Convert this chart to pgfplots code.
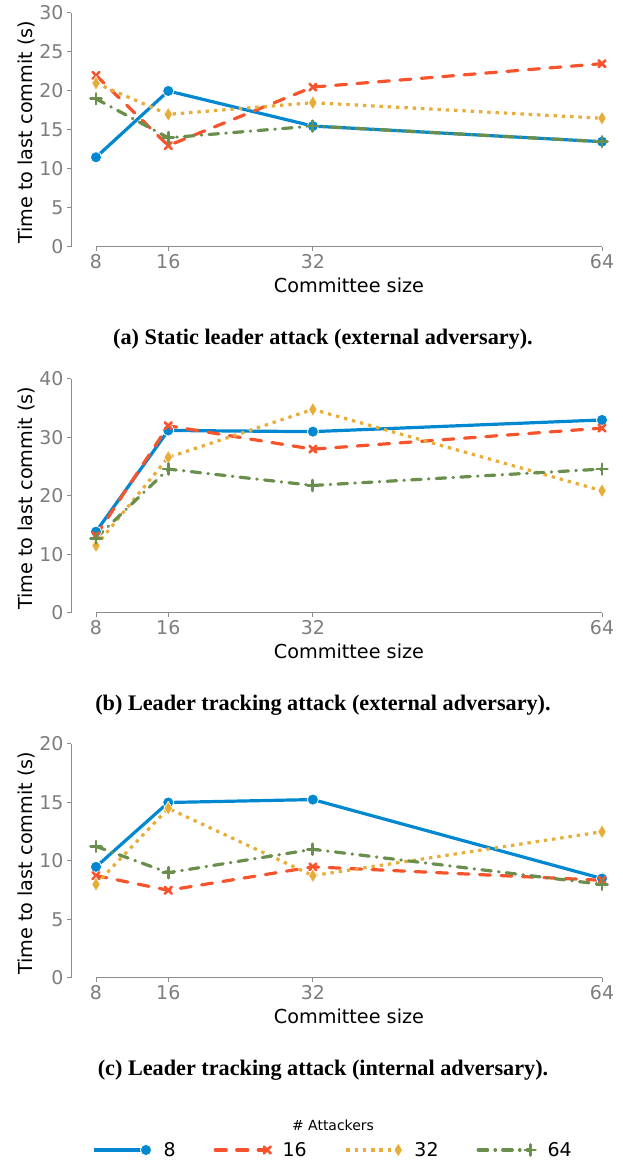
\documentclass[border=0pt]{standalone}
\usepackage{fontspec}
\setmainfont{DejaVu Sans}
\newfontfamily\capfont{Liberation Serif}
\usepackage{pgfplots}
\pgfplotsset{compat=1.18}

\definecolor{cblue}{RGB}{2,136,209}
\definecolor{cred}{RGB}{247,84,45}
\definecolor{cyel}{RGB}{230,174,57}
\definecolor{cgreen}{RGB}{106,142,76}
\definecolor{axgray}{RGB}{140,140,140}
\definecolor{tickgray}{RGB}{125,125,125}

\pgfplotsset{
  panel/.style={
    scale only axis, width=531bp, height=234bp,
    xmin=5.2332, xmax=64, ymin=0,
    axis x line*=bottom, axis y line*=left,
    axis line style={-, draw=axgray, line width=1bp},
    x axis line style={shorten <=25bp},
    xtick={8,16,32,64},
    tick align=outside, major tick length=4bp,
    every tick/.style={axgray, line width=1bp},
    tick label style={font=\fontsize{19}{22}\selectfont, text=tickgray},
    /pgf/number format/assume math mode=true,
    xlabel={Committee size}, ylabel={Time to last commit (s)},
    every axis x label/.style={at={(axis description cs:0.5235,-0.162)}, anchor=center, font=\fontsize{19.3}{22}\selectfont},
    every axis y label/.style={at={(axis description cs:-0.0847,0.49)}, rotate=90, anchor=center, font=\fontsize{19.3}{22}\selectfont},
    clip=false,
    legend image code/.code={\draw[##1, mark repeat=2, mark phase=2] plot coordinates {(0bp,0bp) (52bp,0bp)};},
  },
  s8/.style={cblue, line width=3.2bp, solid, line join=round, mark=*, mark size=5.6bp,
    mark options={solid, fill=cblue, draw=white, line width=0.8bp}},
  s16/.style={cred, line width=3.2bp, line cap=round, line join=round, dash pattern=on 11bp off 10.5bp,
    mark=x, mark size=4.8bp, mark options={solid, line width=2.6bp}},
  s32/.style={cyel, line width=3.2bp, line cap=butt, line join=round, dash pattern=on 3.4bp off 4.9bp,
    mark=diamond*, mark size=7bp, mark options={solid, xscale=0.8, fill=cyel, draw=white, line width=0.6bp}},
  s64/.style={cgreen, line width=3.2bp, line cap=round, line join=round, dash pattern=on 9.5bp off 7.3bp on 0.5bp off 7.3bp,
    mark=+, mark size=5.4bp, mark options={solid, line width=2.8bp}},
}

\begin{document}
\begin{tikzpicture}[x=1bp,y=1bp]
\useasboundingbox (0,0) rectangle (623,1160);

% (a)
\begin{axis}[panel, at={(71bp,913bp)}, anchor=south west, ymax=30, ytick={0,5,10,15,20,25,30}]
\addplot[s8]  coordinates {(8,11.5) (16,20.0) (32,15.5) (64,13.5)};
\addplot[s16] coordinates {(8,22.0) (16,13.0) (32,20.5) (64,23.5)};
\addplot[s32] coordinates {(8,21.0) (16,17.0) (32,18.5) (64,16.5)};
\addplot[s64] coordinates {(8,19.0) (16,14.0) (32,15.5) (64,13.5)};
\end{axis}

% (b)
\begin{axis}[panel, at={(71bp,547bp)}, anchor=south west, ymax=40, ytick={0,10,20,30,40}]
\addplot[s8]  coordinates {(8,13.9) (16,31.2) (32,31.0) (64,33.0)};
\addplot[s16] coordinates {(8,13.2) (16,32.0) (32,28.0) (64,31.6)};
\addplot[s32] coordinates {(8,11.5) (16,26.6) (32,34.8) (64,20.9)};
\addplot[s64] coordinates {(8,12.8) (16,24.6) (32,21.8) (64,24.6)};
\end{axis}

% (c)
\begin{axis}[panel, at={(71bp,182bp)}, anchor=south west, ymax=20, ytick={0,5,10,15,20},
  legend style={at={(axis description cs:0.4934,-0.735)}, anchor=center, draw=none, fill=none,
    legend columns=4, font=\fontsize{19}{22}\selectfont,
    /tikz/every odd column/.append style={column sep=10bp},
    /tikz/every even column/.append style={column sep=36bp}},
  legend cell align=left]
\addplot[s8]  coordinates {(8,9.5) (16,15.0) (32,15.25) (64,8.5)};
\addplot[s16] coordinates {(8,8.75) (16,7.5) (32,9.5) (64,8.35)};
\addplot[s32] coordinates {(8,8.0) (16,14.5) (32,8.75) (64,12.5)};
\addplot[s64] coordinates {(8,11.25) (16,9.0) (32,11.0) (64,8.0)};
\legend{8,16,32,64}
\node[font=\fontsize{14}{16}\selectfont] at (axis description cs:0.4934,-0.628) {\# Attackers};
\end{axis}

\node[font=\capfont\bfseries\fontsize{22.3}{25}\selectfont] at (323,821) {(a) Static leader attack (external adversary).};
\node[font=\capfont\bfseries\fontsize{22.3}{25}\selectfont] at (323,455) {(b) Leader tracking attack (external adversary).};
\node[font=\capfont\bfseries\fontsize{22.3}{25}\selectfont] at (323,90) {(c) Leader tracking attack (internal adversary).};
\end{tikzpicture}
\end{document}
